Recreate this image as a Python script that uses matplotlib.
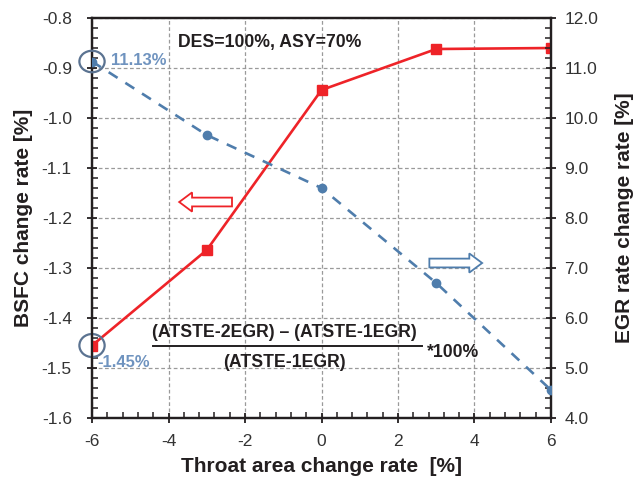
import matplotlib
matplotlib.use("Agg")
import matplotlib.pyplot as plt
from matplotlib.patches import Ellipse, FancyArrow
from matplotlib.ticker import MultipleLocator, AutoMinorLocator, FormatStrFormatter

plt.rcParams['font.family'] = ['Liberation Sans', 'DejaVu Sans']
plt.rcParams['axes.unicode_minus'] = False

#%% data
throat = [-6, -3, 0, 3, 6]
bsfc = [-1.455, -1.264, -0.944, -0.862, -0.860]
egr = [11.13, 9.66, 8.60, 6.70, 4.56]

red = '#EE2328'
blue = '#4F7DAC'
ring = '#5B7391'
txt = '#231F20'

#%% figure
fig = plt.figure(figsize=(6.35, 4.79), dpi=100)
ax = fig.add_axes([0.1449, 0.1273, 0.7228, 0.8351])
ax2 = ax.twinx()

ax.plot(throat, bsfc, color=red, lw=1.9, marker='s', ms=7, zorder=3)
ax2.plot(throat, egr, color=blue, lw=1.9, ls=(0, (4, 3.5)), marker='o', ms=6, zorder=3)

ax.set_xlim(-6, 6)
ax.set_ylim(-1.6, -0.8)
ax2.set_ylim(4.0, 12.0)

ax.xaxis.set_major_locator(MultipleLocator(2))
ax.xaxis.set_minor_locator(AutoMinorLocator(5))
ax.yaxis.set_major_locator(MultipleLocator(0.1))
ax.yaxis.set_minor_locator(AutoMinorLocator(5))
ax.yaxis.set_major_formatter(FormatStrFormatter('%.1f'))
ax2.yaxis.set_major_locator(MultipleLocator(1))
ax2.yaxis.set_minor_locator(AutoMinorLocator(5))
ax2.yaxis.set_major_formatter(FormatStrFormatter('%.1f'))

ax.grid(True, which='major', color='#9A9A9A', ls=(0, (3, 2)), lw=0.9)

for a in (ax, ax2):
    a.tick_params(which='major', direction='inout', length=7, width=1.3,
                  labelsize=12.5, labelcolor='#333333', color=txt)
    a.tick_params(which='minor', direction='in', length=4, width=1.1, color=txt)
    for s in a.spines.values():
        s.set_linewidth(1.6)
        s.set_color(txt)
ax.tick_params(axis='x', pad=8)
ax.tick_params(axis='y', pad=11)
ax2.tick_params(axis='y', pad=6)

ax.set_xlabel('Throat area change rate  [%]', fontsize=15, fontweight='bold', color=txt, labelpad=6)
ax.set_ylabel('BSFC change rate [%]', fontsize=15, fontweight='bold', color=txt, labelpad=6)
ax2.set_ylabel('EGR rate change rate [%]', fontsize=15, fontweight='bold', color=txt, labelpad=12)

#%% annotations
ax.text(0.188, 0.94, 'DES=100%, ASY=70%', transform=ax.transAxes, fontsize=12.7,
        fontweight='bold', color=txt, va='center')
ax.text(0.041, 0.895, '11.13%', transform=ax.transAxes, fontsize=12,
        fontweight='bold', color='#6F93BF', va='center')
ax.text(0.012, 0.138, '-1.45%', transform=ax.transAxes, fontsize=12,
        fontweight='bold', color='#6F93BF', va='center')

ax2.add_patch(Ellipse((throat[0], egr[0]), 0.66, 0.43, fill=False, ec=ring, lw=1.6, clip_on=False, zorder=5))
ax.add_patch(Ellipse((throat[0], bsfc[0]), 0.66, 0.046, fill=False, ec=ring, lw=1.6, clip_on=False, zorder=5))

# fraction
ax.text(0.419, 0.215, '(ATSTE-2EGR) \u2013 (ATSTE-1EGR)', transform=ax.transAxes,
        fontsize=12.7, fontweight='bold', color=txt, ha='center', va='center')
ax.plot([0.132, 0.718], [0.18, 0.18], transform=ax.transAxes, color=txt, lw=1.4)
ax.text(0.419, 0.14, '(ATSTE-1EGR)', transform=ax.transAxes,
        fontsize=12.7, fontweight='bold', color=txt, ha='center', va='center')
ax.text(0.73, 0.165, '*100%', transform=ax.transAxes,
        fontsize=12.7, fontweight='bold', color=txt, ha='left', va='center')

# arrows
ax.add_patch(FancyArrow(0.305, 0.54, -0.115, 0, width=0.022, head_width=0.048,
                        head_length=0.028, length_includes_head=True,
                        transform=ax.transAxes, fc='white', ec=red, lw=1.3, zorder=4))
ax2.add_patch(FancyArrow(0.735, 0.3875, 0.115, 0, width=0.022, head_width=0.048,
                         head_length=0.028, length_includes_head=True,
                         transform=ax.transAxes, fc='white', ec=blue, lw=1.3, zorder=4))

fig.savefig('out.png', dpi=100)
